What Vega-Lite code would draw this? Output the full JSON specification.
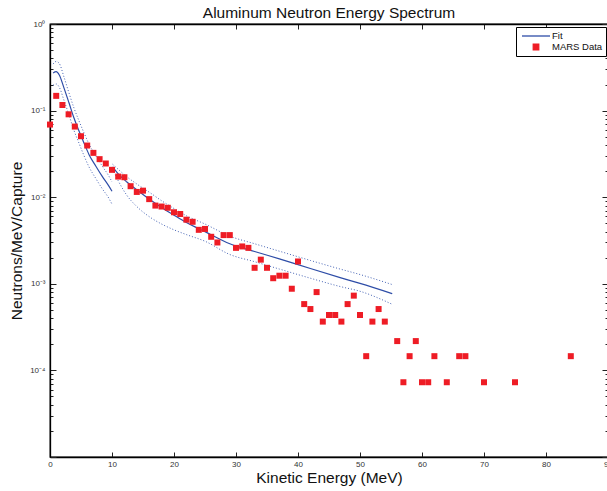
{
  "$schema": "https://vega.github.io/schema/vega-lite/v6.json",
  "width": 558,
  "height": 433,
  "autosize": {"type": "none"},
  "padding": {"left": 50, "top": 24, "right": 0, "bottom": 34},
  "background": "white",
  "title": {"text": "Aluminum Neutron Energy Spectrum", "fontSize": 15.5, "font": "Liberation Sans", "fontWeight": "normal", "color": "#111111", "offset": -1},
  "config": {"view": {"stroke": "#000000", "strokeWidth": 1.3}, "font": "Liberation Sans"},
  "datasets": {
    "pts": [
      {"x": 0, "y": 0.069}, {"x": 1, "y": 0.148}, {"x": 2, "y": 0.116}, {"x": 3, "y": 0.0906}, {"x": 4, "y": 0.0654},
      {"x": 5, "y": 0.0506}, {"x": 6, "y": 0.0395}, {"x": 7, "y": 0.0325}, {"x": 8, "y": 0.0275}, {"x": 9, "y": 0.0245},
      {"x": 10, "y": 0.0207}, {"x": 11, "y": 0.0173}, {"x": 12, "y": 0.017}, {"x": 13, "y": 0.0134}, {"x": 14, "y": 0.0115},
      {"x": 15, "y": 0.0119}, {"x": 16, "y": 0.0095}, {"x": 17, "y": 0.008}, {"x": 18, "y": 0.0078}, {"x": 19, "y": 0.00755},
      {"x": 20, "y": 0.0067}, {"x": 21, "y": 0.0064}, {"x": 22, "y": 0.0055}, {"x": 23, "y": 0.0052}, {"x": 24, "y": 0.0042},
      {"x": 25, "y": 0.0043}, {"x": 26, "y": 0.00349}, {"x": 27, "y": 0.003}, {"x": 28, "y": 0.00365}, {"x": 29, "y": 0.00365},
      {"x": 30, "y": 0.0026}, {"x": 31, "y": 0.0027}, {"x": 32, "y": 0.0026}, {"x": 33, "y": 0.00153}, {"x": 34, "y": 0.0019},
      {"x": 35, "y": 0.00153}, {"x": 36, "y": 0.00116}, {"x": 37, "y": 0.00124}, {"x": 38, "y": 0.00124}, {"x": 39, "y": 0.000877},
      {"x": 40, "y": 0.00181}, {"x": 41, "y": 0.000583}, {"x": 42, "y": 0.000511}, {"x": 43, "y": 0.000802}, {"x": 44, "y": 0.000366},
      {"x": 45, "y": 0.000436}, {"x": 46, "y": 0.000436}, {"x": 47, "y": 0.000366}, {"x": 48, "y": 0.000583}, {"x": 49, "y": 0.00073},
      {"x": 50, "y": 0.000436}, {"x": 51, "y": 0.000146}, {"x": 52, "y": 0.000366}, {"x": 53, "y": 0.000511}, {"x": 54, "y": 0.000366},
      {"x": 56, "y": 0.000218}, {"x": 57, "y": 0.000073}, {"x": 58, "y": 0.000146}, {"x": 59, "y": 0.000218}, {"x": 60, "y": 0.000073},
      {"x": 61, "y": 0.000073}, {"x": 62, "y": 0.000146}, {"x": 64, "y": 0.000073}, {"x": 66, "y": 0.000146}, {"x": 67, "y": 0.000146},
      {"x": 70, "y": 0.000073}, {"x": 75, "y": 0.000073}, {"x": 84, "y": 0.000146}
    ],
    "curves": [
      {"s": "fit1", "x": 0.5, "y": 0.272}, {"s": "fit1", "x": 1.0, "y": 0.282}, {"s": "fit1", "x": 1.5, "y": 0.258}, {"s": "fit1", "x": 2.25, "y": 0.183},
      {"s": "fit1", "x": 3.06, "y": 0.123}, {"s": "fit1", "x": 3.87, "y": 0.082}, {"s": "fit1", "x": 4.68, "y": 0.058}, {"s": "fit1", "x": 5.5, "y": 0.042},
      {"s": "fit1", "x": 6.3, "y": 0.031}, {"s": "fit1", "x": 7.4, "y": 0.0228}, {"s": "fit1", "x": 8.4, "y": 0.0175}, {"s": "fit1", "x": 9.5, "y": 0.0134},
      {"s": "fit1", "x": 10.0, "y": 0.0117},
      {"s": "up1", "x": 0.5, "y": 0.345}, {"s": "up1", "x": 1.0, "y": 0.37}, {"s": "up1", "x": 1.5, "y": 0.35}, {"s": "up1", "x": 2.25, "y": 0.245},
      {"s": "up1", "x": 3.06, "y": 0.16}, {"s": "up1", "x": 3.87, "y": 0.107}, {"s": "up1", "x": 4.68, "y": 0.076}, {"s": "up1", "x": 5.5, "y": 0.055},
      {"s": "up1", "x": 6.3, "y": 0.041}, {"s": "up1", "x": 7.4, "y": 0.03}, {"s": "up1", "x": 8.4, "y": 0.023}, {"s": "up1", "x": 9.5, "y": 0.0175},
      {"s": "up1", "x": 10.0, "y": 0.015},
      {"s": "lo1", "x": 0.5, "y": 0.196}, {"s": "lo1", "x": 1.0, "y": 0.203}, {"s": "lo1", "x": 1.5, "y": 0.186}, {"s": "lo1", "x": 2.25, "y": 0.132},
      {"s": "lo1", "x": 3.06, "y": 0.089}, {"s": "lo1", "x": 3.87, "y": 0.059}, {"s": "lo1", "x": 4.68, "y": 0.042}, {"s": "lo1", "x": 5.5, "y": 0.03},
      {"s": "lo1", "x": 6.3, "y": 0.0223}, {"s": "lo1", "x": 7.4, "y": 0.0164}, {"s": "lo1", "x": 8.4, "y": 0.0126}, {"s": "lo1", "x": 9.5, "y": 0.0097},
      {"s": "lo1", "x": 10.0, "y": 0.0083},
      {"s": "fit2", "x": 10.1, "y": 0.0224}, {"s": "fit2", "x": 11, "y": 0.0186}, {"s": "fit2", "x": 12.4, "y": 0.015}, {"s": "fit2", "x": 14, "y": 0.0122},
      {"s": "fit2", "x": 16.1, "y": 0.0094}, {"s": "fit2", "x": 18, "y": 0.0076}, {"s": "fit2", "x": 20, "y": 0.0062}, {"s": "fit2", "x": 22, "y": 0.0051},
      {"s": "fit2", "x": 25, "y": 0.004}, {"s": "fit2", "x": 29, "y": 0.0029}, {"s": "fit2", "x": 33, "y": 0.00236}, {"s": "fit2", "x": 37, "y": 0.00194},
      {"s": "fit2", "x": 42, "y": 0.0015}, {"s": "fit2", "x": 46.8, "y": 0.00118}, {"s": "fit2", "x": 50, "y": 0.00101}, {"s": "fit2", "x": 55.2, "y": 0.00077},
      {"s": "up2", "x": 10.1, "y": 0.024}, {"s": "up2", "x": 11, "y": 0.021}, {"s": "up2", "x": 12.4, "y": 0.0172}, {"s": "up2", "x": 14, "y": 0.0142},
      {"s": "up2", "x": 16.1, "y": 0.0113}, {"s": "up2", "x": 18, "y": 0.0091}, {"s": "up2", "x": 20, "y": 0.0074}, {"s": "up2", "x": 22, "y": 0.0061},
      {"s": "up2", "x": 25, "y": 0.0049}, {"s": "up2", "x": 29, "y": 0.00355}, {"s": "up2", "x": 33, "y": 0.0029}, {"s": "up2", "x": 37, "y": 0.00238},
      {"s": "up2", "x": 42, "y": 0.00186}, {"s": "up2", "x": 46.8, "y": 0.00148}, {"s": "up2", "x": 50, "y": 0.00128}, {"s": "up2", "x": 55.2, "y": 0.00098},
      {"s": "lo2", "x": 10.1, "y": 0.021}, {"s": "lo2", "x": 11, "y": 0.0155}, {"s": "lo2", "x": 12.4, "y": 0.0105}, {"s": "lo2", "x": 14, "y": 0.0078},
      {"s": "lo2", "x": 16.1, "y": 0.0059}, {"s": "lo2", "x": 18, "y": 0.0049}, {"s": "lo2", "x": 20, "y": 0.0042}, {"s": "lo2", "x": 22, "y": 0.0037},
      {"s": "lo2", "x": 25, "y": 0.0031}, {"s": "lo2", "x": 29, "y": 0.00218}, {"s": "lo2", "x": 33, "y": 0.0018}, {"s": "lo2", "x": 37, "y": 0.00148},
      {"s": "lo2", "x": 42, "y": 0.00116}, {"s": "lo2", "x": 46.8, "y": 0.00093}, {"s": "lo2", "x": 50, "y": 0.00082}, {"s": "lo2", "x": 55.2, "y": 0.00058}
    ]
  },
  "layer": [
    {
      "data": {"name": "curves"},
      "transform": [{"filter": "indexof(['up1','lo1','up2','lo2'], datum.s) >= 0"}],
      "mark": {"type": "line", "strokeDash": [1, 2], "strokeWidth": 1, "color": "#4563b5", "interpolate": "monotone"},
      "encoding": {
        "x": {"field": "x", "type": "quantitative", "scale": {"domain": [0, 90], "nice": false, "zero": false},
          "axis": {"orient": "bottom", "values": [0, 10, 20, 30, 40, 50, 60, 70, 80, 90], "tickSize": -5, "labelPadding": 8,
            "labelFontSize": 8, "labelColor": "#333333", "labelFont": "Liberation Sans", "domainColor": "#000000", "domainWidth": 1.3,
            "tickColor": "#222222", "grid": false, "labelFlush": false, "labelOverlap": false,
            "title": "Kinetic Energy (MeV)", "titleFontSize": 15.5, "titleFontWeight": "normal", "titleFont": "Liberation Sans", "titleColor": "#111111", "titlePadding": 2}},
        "y": {"field": "y", "type": "quantitative", "scale": {"type": "log", "domain": [0.00001, 1], "nice": false},
          "axis": {"orient": "left",
            "values": [0.00001,0.00002,0.00003,0.00004,0.00005,0.00006,0.00007,0.00008,0.00009,0.0001,0.0002,0.0003,0.0004,0.0005,0.0006,0.0007,0.0008,0.0009,0.001,0.002,0.003,0.004,0.005,0.006,0.007,0.008,0.009,0.01,0.02,0.03,0.04,0.05,0.06,0.07,0.08,0.09,0.1,0.2,0.3,0.4,0.5,0.6,0.7,0.8,0.9,1],
            "labelExpr": "datum.value == 1 ? '10⁰' : datum.value == 0.1 ? '10⁻¹' : datum.value == 0.01 ? '10⁻²' : datum.value == 0.001 ? '10⁻³' : datum.value == 0.0001 ? '10⁻⁴' : ''",
            "tickSize": {"condition": {"test": "indexof([1,0.1,0.01,0.001,0.0001,0.00001], datum.value) >= 0", "value": -6}, "value": -3},
            "labelPadding": 11, "labelFontSize": 8, "labelColor": "#333333", "labelFont": "Liberation Sans", "labelOverlap": false, "labelFlush": false,
            "domainColor": "#000000", "domainWidth": 1.3, "tickColor": "#222222", "grid": false,
            "title": "Neutrons/MeV/Capture", "titleFontSize": 15.5, "titleFontWeight": "normal", "titleFont": "Liberation Sans", "titleColor": "#111111", "titlePadding": 5}},
        "detail": {"field": "s"}
      }
    },
    {
      "data": {"name": "curves"},
      "transform": [{"filter": "indexof(['fit1','fit2'], datum.s) >= 0"}],
      "mark": {"type": "line", "strokeWidth": 1.2, "interpolate": "monotone"},
      "encoding": {
        "x": {"field": "x", "type": "quantitative", "axis": null},
        "y": {"field": "y", "type": "quantitative", "axis": null},
        "detail": {"field": "s"},
        "color": {"datum": "Fit", "type": "nominal",
          "scale": {"domain": ["Fit", "MARS Data"], "range": ["#2E4DA7", "#EE1C25"]},
          "legend": {"orient": "none", "legendX": 466, "legendY": 3, "title": null, "symbolSize": 100, "rowPadding": 0, "padding": 3,
            "strokeColor": "#000000", "fillColor": "#ffffff", "labelFontSize": 9.5, "labelFont": "Liberation Sans", "labelColor": "#111111",
            "symbolOffset": 11, "labelOffset": 10,
            "encode": {"symbols": {"update": {
              "shape": {"signal": "datum.value === 'Fit' ? 'M-2.8,0H2.8' : 'M-0.55,-0.55H0.55V0.55H-0.55Z'"},
              "fill": {"signal": "datum.value === 'Fit' ? 'transparent' : '#EE1C25'"},
              "stroke": {"signal": "datum.value === 'Fit' ? '#2E4DA7' : 'transparent'"},
              "strokeWidth": {"value": 1.3},
              "opacity": {"value": 1},
              "size": {"value": 100}
            }}}}}
      }
    },
    {
      "data": {"name": "pts"},
      "mark": {"type": "point", "shape": "square", "filled": true, "size": 36, "opacity": 1},
      "encoding": {
        "x": {"field": "x", "type": "quantitative", "axis": null},
        "y": {"field": "y", "type": "quantitative", "axis": null},
        "color": {"datum": "MARS Data", "type": "nominal"}
      }
    },
    {
      "data": {"name": "pts"},
      "mark": {"type": "point", "opacity": 0},
      "encoding": {
        "x": {"field": "x", "type": "quantitative",
          "axis": {"orient": "top", "values": [0, 10, 20, 30, 40, 50, 60, 70, 80, 90], "tickSize": -5, "labels": false, "title": null,
            "domainColor": "#000000", "domainWidth": 1.3, "tickColor": "#222222", "grid": false}},
        "y": {"field": "y", "type": "quantitative",
          "axis": {"orient": "right",
            "values": [0.00001,0.00002,0.00003,0.00004,0.00005,0.00006,0.00007,0.00008,0.00009,0.0001,0.0002,0.0003,0.0004,0.0005,0.0006,0.0007,0.0008,0.0009,0.001,0.002,0.003,0.004,0.005,0.006,0.007,0.008,0.009,0.01,0.02,0.03,0.04,0.05,0.06,0.07,0.08,0.09,0.1,0.2,0.3,0.4,0.5,0.6,0.7,0.8,0.9,1],
            "tickSize": {"condition": {"test": "indexof([1,0.1,0.01,0.001,0.0001,0.00001], datum.value) >= 0", "value": -6}, "value": -3},
            "labels": false, "title": null, "domainColor": "#000000", "domainWidth": 1.3, "tickColor": "#222222", "grid": false}}
      }
    }
  ],
  "resolve": {"axis": {"x": "independent", "y": "independent"}}
}
